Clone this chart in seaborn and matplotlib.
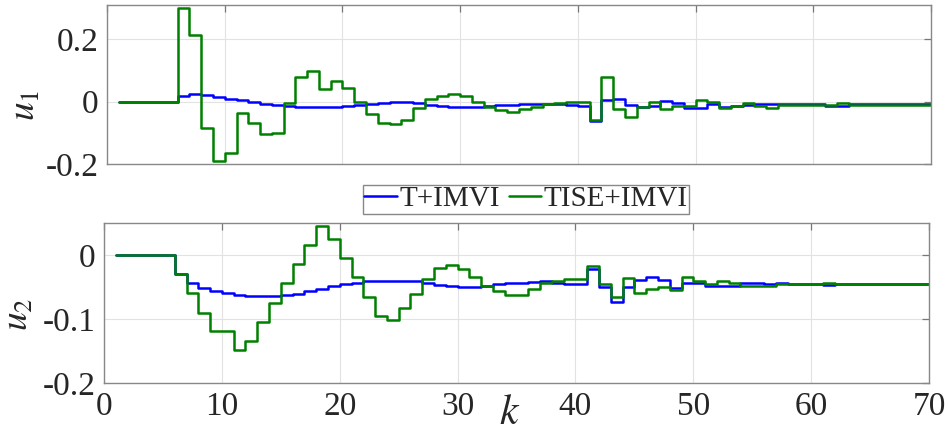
import numpy as np
import pandas as pd
import matplotlib
matplotlib.use("Agg")
import matplotlib.pyplot as plt
import seaborn as sns

# sample index
k = list(range(1, 71))

# control input u1
u1_t_imvi = [0, 0, 0, 0, 0, 0.019, 0.023, 0.020, 0.016, 0.010,
             0.005, -0.001, -0.008, -0.012, -0.014, -0.017, -0.017, -0.017, -0.017, -0.014,
             -0.010, -0.006, -0.003, 0.000, -0.001, -0.004, -0.010, -0.013, -0.016, -0.016,
             -0.016, -0.014, -0.012, -0.010, -0.007, -0.006, -0.008, -0.009, -0.011, -0.013,
             -0.062, 0.005, 0.009, -0.011, -0.018, -0.014, 0.002, -0.003, -0.019, -0.019,
             -0.008, -0.016, -0.014, -0.010, -0.009, -0.006, -0.007, -0.009, -0.009, -0.009,
             -0.014, -0.014, -0.009, -0.009, -0.009, -0.009, -0.009, -0.009, -0.009, -0.009]
u1_tise_imvi = [0, 0, 0, 0, 0, 0.300, 0.215, -0.086, -0.189, -0.164,
                -0.035, -0.067, -0.105, -0.100, -0.003, 0.079, 0.097, 0.039, 0.067, 0.044,
                0.000, -0.040, -0.067, -0.073, -0.058, -0.019, 0.007, 0.017, 0.024, 0.017,
                -0.002, -0.017, -0.028, -0.032, -0.024, -0.017, -0.009, -0.003, 0.000, -0.002,
                -0.058, 0.079, -0.024, -0.050, -0.018, -0.001, -0.024, -0.014, -0.014, 0.004,
                0.000, -0.019, -0.014, -0.005, -0.014, -0.019, -0.011, -0.011, -0.011, -0.011,
                -0.011, -0.005, -0.011, -0.011, -0.011, -0.011, -0.011, -0.011, -0.011, -0.011]

# control input u2
u2_t_imvi = [0, 0, 0, 0, 0, -0.029, -0.043, -0.052, -0.057, -0.060,
             -0.062, -0.064, -0.064, -0.064, -0.062, -0.061, -0.057, -0.053, -0.049, -0.046,
             -0.043, -0.041, -0.040, -0.040, -0.040, -0.041, -0.044, -0.047, -0.048, -0.050,
             -0.050, -0.048, -0.046, -0.044, -0.043, -0.042, -0.041, -0.044, -0.045, -0.045,
             -0.022, -0.050, -0.074, -0.050, -0.039, -0.035, -0.039, -0.052, -0.043, -0.043,
             -0.048, -0.049, -0.048, -0.044, -0.044, -0.046, -0.044, -0.045, -0.045, -0.045,
             -0.047, -0.046, -0.046, -0.046, -0.046, -0.046, -0.046, -0.046, -0.046, -0.046]
u2_tise_imvi = [0, 0, 0, 0, 0, -0.030, -0.060, -0.091, -0.119, -0.119,
                -0.149, -0.134, -0.105, -0.075, -0.044, -0.014, 0.016, 0.045, 0.025, -0.005,
                -0.035, -0.065, -0.095, -0.102, -0.083, -0.061, -0.038, -0.021, -0.015, -0.022,
                -0.035, -0.049, -0.057, -0.062, -0.062, -0.053, -0.044, -0.040, -0.037, -0.038,
                -0.017, -0.046, -0.065, -0.036, -0.059, -0.053, -0.050, -0.054, -0.034, -0.040,
                -0.046, -0.041, -0.043, -0.049, -0.048, -0.048, -0.046, -0.045, -0.045, -0.045,
                -0.043, -0.045, -0.045, -0.045, -0.045, -0.045, -0.045, -0.045, -0.045, -0.045]

methods = ["T+IMVI", "TISE+IMVI"]
colors = {"T+IMVI": "#0000ff", "TISE+IMVI": "#008000"}

df = pd.concat([
    pd.DataFrame({"k": k, "u1": u1_t_imvi, "u2": u2_t_imvi, "method": methods[0]}),
    pd.DataFrame({"k": k, "u1": u1_tise_imvi, "u2": u2_tise_imvi, "method": methods[1]}),
], ignore_index=True)

sns.set_style("white")
plt.rcParams["font.family"] = ["Liberation Serif", "DejaVu Serif"]
plt.rcParams["mathtext.fontset"] = "stix"

fig = plt.figure(figsize=(9.48, 4.34), dpi=100)
ax1 = fig.add_axes([0.1129, 0.6221, 0.8692, 0.3664])
ax2 = fig.add_axes([0.1097, 0.1175, 0.8703, 0.3687])

for ax, col in ((ax1, "u1"), (ax2, "u2")):
    sns.lineplot(data=df, x="k", y=col, hue="method", hue_order=methods,
                 palette=colors, drawstyle="steps-post", estimator=None,
                 linewidth=1.8, ax=ax, legend=(ax is ax1))
    ax.set_xlim(0, 70)
    ax.set_xticks(range(0, 71, 10))
    ax.grid(True, color="#e2e2e2", linewidth=0.8)
    ax.set_axisbelow(True)
    for s in ax.spines.values():
        s.set_color("#888888")
        s.set_linewidth(1.0)
    ax.tick_params(direction="in", length=5, width=0.9, color="#777777",
                   top=True, right=True, labelsize=24, pad=6)

ax1.set_ylim(-0.2, 0.31)
ax1.set_yticks([-0.2, 0, 0.2])
ax1.set_yticklabels(["-0.2", "0", "0.2"])
ax1.set_xticklabels([])
ax1.set_xlabel("")
ax1.set_ylabel("$u_1$", fontsize=27)
ax1.yaxis.set_label_coords(-0.078, 0.37)

ax2.set_ylabel("$u_2$", fontsize=27)
ax2.set_ylim(-0.2, 0.05)
ax2.set_yticks([-0.2, -0.1, 0])
ax2.set_yticklabels(["-0.2", "-0.1", "0"])
ax2.yaxis.set_label_coords(-0.083, 0.43)
ax2.set_xlabel("$k$", fontsize=30)
ax2.xaxis.set_label_coords(0.492, -0.07)

handles, labels = ax1.get_legend_handles_labels()
ax1.get_legend().remove()
leg = fig.legend(handles, labels, loc="center", bbox_to_anchor=(0.555, 0.541),
                 ncol=2, fontsize=21, frameon=True, fancybox=False,
                 edgecolor="#888888", framealpha=1, borderpad=0.05,
                 handlelength=1.1, handletextpad=0.1, columnspacing=0.3,
                 borderaxespad=0)
leg.get_frame().set_linewidth(1.0)

fig.savefig("out.png", dpi=100)
